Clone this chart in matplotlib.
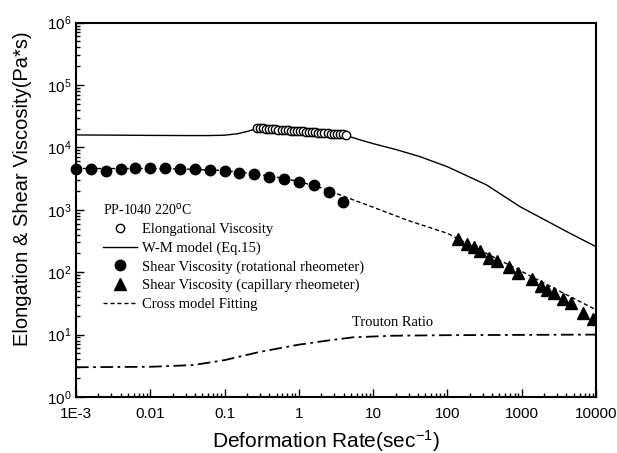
import matplotlib
matplotlib.use("Agg")
import matplotlib.pyplot as plt
from matplotlib.lines import Line2D
from matplotlib.ticker import LogLocator, FixedLocator, FixedFormatter, NullFormatter

plt.rcParams['font.family'] = ['Liberation Sans', 'DejaVu Sans']
plt.rcParams['mathtext.fontset'] = 'custom'
plt.rcParams['mathtext.rm'] = 'Liberation Sans'
plt.rcParams['mathtext.it'] = 'Liberation Sans:italic'

# ---- data ----
elong_rate = [0.273, 0.300, 0.330, 0.363, 0.399, 0.439, 0.483, 0.531, 0.584, 0.642,
              0.706, 0.777, 0.854, 0.940, 1.03, 1.14, 1.25, 1.38, 1.51, 1.66,
              1.83, 2.01, 2.21, 2.43, 2.68, 2.95, 3.24, 3.57, 3.92, 4.33]
elong_visc = [20500, 20350, 20150, 19950, 19800, 19650, 19500, 19300, 19150, 19000,
              18800, 18650, 18500, 18350, 18200, 18050, 17900, 17750, 17600, 17450,
              17300, 17150, 17000, 16850, 16700, 16550, 16400, 16300, 16150, 16000]

wm_rate = [0.001, 0.003, 0.01, 0.03, 0.06, 0.1, 0.15, 0.2, 0.273, 1.0, 4.33,
           5.0, 7.0, 10, 20, 42.7, 100, 337, 947, 2000, 4450, 10000]
wm_visc = [15850, 15750, 15600, 15500, 15500, 15700, 16600, 18000, 20000, 18100, 16000,
           14700, 13000, 11500, 9300, 7120, 4900, 2505, 1124, 700, 421, 257]

rot_rate = [0.001, 0.00158, 0.00251, 0.00398, 0.00631, 0.01, 0.0158, 0.0251, 0.0398, 0.0631,
            0.1, 0.158, 0.251, 0.398, 0.631, 1.0, 1.58, 2.51, 3.98]
rot_visc = [4520, 4450, 4250, 4570, 4640, 4690, 4690, 4570, 4470, 4355,
            4150, 3900, 3690, 3400, 3125, 2800, 2480, 1955, 1320]

cap_rate = [140, 181, 227, 274, 362, 459, 679, 898, 1385, 1795,
            2203, 2712, 3620, 4550, 6600, 9170]
cap_visc = [341, 284, 257, 221, 171, 150, 120, 96, 77, 60,
            52, 47, 37.6, 31.8, 22.5, 18]

cross_rate = [0.001, 0.01, 0.03, 0.1, 0.2, 0.5, 1.0, 2.0, 4.0, 10, 30, 100, 300,
              1000, 3000, 10000]
cross_visc = [4600, 4580, 4500, 4250, 3900, 3350, 2850, 2250, 1650, 1100, 670, 420,
              214, 103, 52, 25]

trouton_rate = [0.001, 0.01, 0.038, 0.1, 0.3, 1.0, 2.37, 5.4, 18.6, 100, 1000, 10000]
trouton_ratio = [3.0, 3.05, 3.25, 3.9, 5.3, 6.9, 8.0, 9.06, 9.6, 9.8, 9.9, 10.0]

xtick_vals = [1e-3, 1e-2, 1e-1, 1, 10, 100, 1000, 10000]
xtick_labels = ['1E-3', '0.01', '0.1', '1', '10', '100', '1000', '10000']

# ---- figure ----
fig = plt.figure(figsize=(6.17, 4.53), dpi=100)
ax = fig.add_axes([0.1232, 0.1236, 0.8428, 0.8264])

ax.plot(wm_rate, wm_visc, color='black', lw=1.0, zorder=2)
ax.plot(cross_rate, cross_visc, color='black', lw=1.0, dashes=(3, 2), zorder=2)
ax.plot(trouton_rate, trouton_ratio, color='black', lw=1.3, dashes=(7, 2.5, 1.5, 2.5), zorder=2)
ax.plot(elong_rate, elong_visc, 'o', ms=6, mfc='white', mec='black', mew=1.0, zorder=3)
ax.plot(rot_rate, rot_visc, 'o', ms=7.5, color='black', zorder=3, clip_on=False)
ax.plot(cap_rate, cap_visc, '^', ms=8, color='black', zorder=3)

ax.set_xscale('log')
ax.set_yscale('log')
ax.set_xlim(1e-3, 1e4)
ax.set_ylim(1, 1e6)

ax.xaxis.set_major_locator(FixedLocator(xtick_vals))
ax.xaxis.set_major_formatter(FixedFormatter(xtick_labels))
ax.xaxis.set_minor_locator(LogLocator(base=10, subs=range(2, 10), numticks=20))
ax.xaxis.set_minor_formatter(NullFormatter())
ax.yaxis.set_major_locator(LogLocator(base=10, numticks=10))
ax.yaxis.set_minor_locator(LogLocator(base=10, subs=range(2, 10), numticks=20))
ax.yaxis.set_minor_formatter(NullFormatter())

ax.tick_params(which='both', direction='in', top=False, right=False, labelsize=11, width=1.0)
ax.tick_params(which='major', length=6)
ax.tick_params(which='minor', length=3)
ax.tick_params(axis='x', pad=7)
for s in ax.spines.values():
    s.set_linewidth(1.5)

ax.set_xlabel('Deformation Rate(sec$^{-1}$)', fontsize=15)
ax.xaxis.set_label_coords(0.48, -0.082)
ax.set_ylabel('Elongation & Shear Viscosity(Pa*s)', fontsize=14.5)
ax.yaxis.set_label_coords(-0.085, 0.556)

ax.text(18, 12.5, 'Trouton Ratio', family='Liberation Serif', fontsize=10.5,
        ha='center', va='bottom')

handles = [
    Line2D([], [], ls='none', marker='o', ms=6, mfc='white', mec='black'),
    Line2D([], [], color='black', lw=1.0),
    Line2D([], [], ls='none', marker='o', ms=7.5, color='black'),
    Line2D([], [], ls='none', marker='^', ms=8, color='black'),
    Line2D([], [], color='black', lw=1.0, dashes=(3, 2)),
]
labels = ['Elongational Viscosity', 'W-M model (Eq.15)',
          'Shear Viscosity (rotational rheometer)',
          'Shear Viscosity (capillary rheometer)', 'Cross model Fitting']
leg = ax.legend(handles, labels, loc='upper left', bbox_to_anchor=(0.052, 0.522),
                frameon=False, prop={'family': 'Liberation Serif', 'size': 10.5},
                handlelength=2.3, handletextpad=0.35, labelspacing=0.36, borderpad=0,
                borderaxespad=0,
                title='PP-1040 220$^{\\mathrm{o}}$C',
                title_fontproperties={'family': 'Liberation Serif', 'size': 10})
leg._legend_box.align = 'left'

fig.savefig('out.png', dpi=100)
